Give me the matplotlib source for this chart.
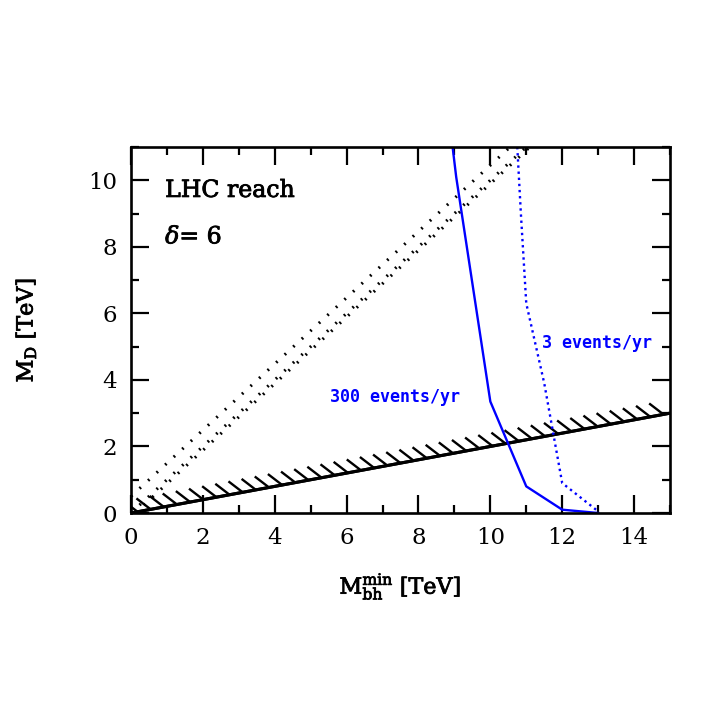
#!/usr/bin/env python3
"""LHC reach plot: M_D versus minimum black-hole mass."""
import matplotlib
matplotlib.use('Agg')
import matplotlib.pyplot as plt
import matplotlib.patheffects as pe
from matplotlib.ticker import MultipleLocator

# ── data ────────────────────────────────────────────────────────────────────
# 300 events/yr (solid blue) and 3 events/yr (dotted blue)
mbh_300 = [8.95, 9.05, 10.0, 11.0, 12.0, 13.0]
md_300  = [11.0, 10.1, 3.35, 0.80, 0.10, 0.0]
mbh_3   = [10.75, 10.85, 11.0, 11.5, 12.0, 13.0]
md_3    = [11.0, 9.0, 6.3, 3.9, 0.90, 0.05]

# black dotted lines (x endpoints, y endpoints)
dot_x = [[0.0, 10.55], [0.0, 11.0], [0.12, 11.1]]
dot_y = [[0.5, 11.0], [0.0, 11.0], [0.0, 11.0]]

# hatched bound M_D = 0.2 M_bh
bound_x = [0.0, 15.0]
bound_y = [0.0, 3.0]

XLIM = (0, 15)
YLIM = (0, 11)

BLUE = '#0000ff'
SERIF = 'DejaVu Serif'


def heavy():
    return [pe.withStroke(linewidth=0.6, foreground='black')]


plt.rcParams['mathtext.fontset'] = 'dejavuserif'

fig = plt.figure(figsize=(7.08, 7.08), dpi=100, facecolor='white')
ax = fig.add_axes([131 / 708, 195 / 708, 539 / 708, 366 / 708])

# hatched line
ax.plot(bound_x, bound_y, color='black', lw=2.2, solid_capstyle='butt',
        path_effects=[pe.Normal(),
                      pe.withTickedStroke(spacing=9.6, angle=132, length=1.35,
                                          linewidth=1.7)])

# dotted black lines
for xs, ys in zip(dot_x, dot_y):
    ax.plot(xs, ys, color='black', lw=2.2, ls=(0, (0.6, 3.2)),
            dash_capstyle='butt')

# blue curves
ax.plot(mbh_300, md_300, color=BLUE, lw=1.7)
ax.plot(mbh_3, md_3, color=BLUE, lw=1.7, ls=(0, (1, 1.6)))

ax.text(7.35, 3.5, '300 events/yr', color=BLUE, fontsize=12,
        family='DejaVu Sans Mono', fontweight='bold', ha='center', va='center')
ax.text(12.96, 5.1, '3 events/yr', color=BLUE, fontsize=12,
        family='DejaVu Sans Mono', fontweight='bold', ha='center', va='center')

ax.text(0.95, 9.5, 'LHC reach', fontsize=17, family=SERIF, va='baseline',
        path_effects=heavy())
ax.text(0.95, 8.1, r'$\delta$= 6', fontsize=17, family=SERIF, va='baseline',
        path_effects=heavy())

ax.set_xlim(*XLIM)
ax.set_ylim(*YLIM)
ax.xaxis.set_major_locator(MultipleLocator(2))
ax.xaxis.set_minor_locator(MultipleLocator(1))
ax.yaxis.set_major_locator(MultipleLocator(2))
ax.yaxis.set_minor_locator(MultipleLocator(1))
ax.tick_params(which='both', direction='in', top=True, right=True, width=1.6,
               labelfontfamily=SERIF, labelsize=16.5)
ax.tick_params(which='major', length=13, pad=10)
ax.tick_params(which='minor', length=6)
for sp in ax.spines.values():
    sp.set_linewidth(1.9)

ax.set_xlabel(r'M$^{\rm min}_{\rm bh}$ [TeV]', fontsize=16, family=SERIF,
              labelpad=16, path_effects=heavy())
ax.set_ylabel(r'M$_{\rm D}$ [TeV]', fontsize=16, family=SERIF, labelpad=36,
              path_effects=heavy())

fig.savefig('out.png', dpi=100, facecolor='white')
